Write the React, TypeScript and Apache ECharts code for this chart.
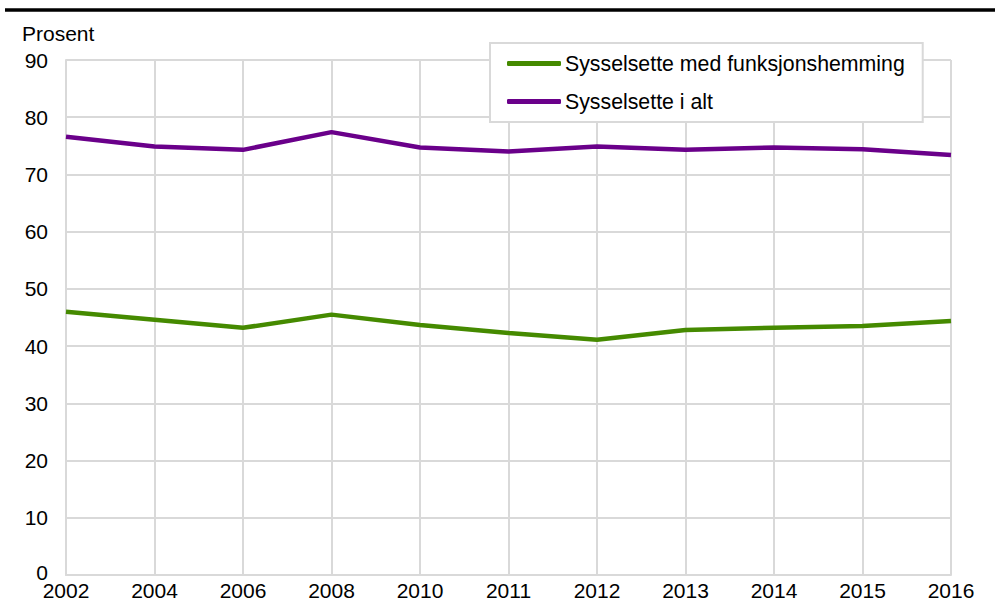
import React, { useEffect, useRef } from "react";
import * as echarts from "echarts";

const years = ["2002", "2004", "2006", "2008", "2010", "2011", "2012", "2013", "2014", "2015", "2016"];
const funksjonshemming = [46.0, 44.6, 43.2, 45.5, 43.7, 42.3, 41.1, 42.8, 43.2, 43.5, 44.4];
const iAlt = [76.6, 74.9, 74.3, 77.4, 74.7, 74.0, 74.9, 74.3, 74.7, 74.4, 73.4];
const seriesNames = ["Sysselsette med funksjonshemming", "Sysselsette i alt"];
const yUnit = "Prosent";

const FONT = "'Liberation Sans', Arial, sans-serif";
const GRID = "#d9d9d9";

export default function App() {
  const ref = useRef<HTMLDivElement>(null);
  useEffect(() => {
    if (!ref.current) return;
    const chart = echarts.init(ref.current, undefined, { renderer: "svg" });
    chart.setOption({
      animation: false,
      backgroundColor: "#ffffff",
      textStyle: { fontFamily: FONT },
      grid: { left: 66, right: 44, top: 60, bottom: 41, containLabel: false },
      legend: {
        orient: "vertical",
        left: 490,
        top: 43,
        padding: [10, 18, 10, 17],
        itemGap: 17,
        itemWidth: 54,
        itemHeight: 5,
        icon: "roundRect",
        borderColor: GRID,
        borderWidth: 2,
        backgroundColor: "#ffffff",
        textStyle: { fontSize: 21.3, color: "#000", fontFamily: FONT, padding: [0, 0, 0, -1] },
        data: seriesNames,
      },
      xAxis: {
        type: "category",
        data: years,
        boundaryGap: false,
        axisLine: { show: true, lineStyle: { color: GRID, width: 2 } },
        axisTick: { show: false },
        axisLabel: { fontSize: 21, color: "#000", fontFamily: FONT, margin: 5, interval: 0 },
        splitLine: { show: true, interval: 0, lineStyle: { color: GRID, width: 2 } },
      },
      yAxis: {
        type: "value",
        min: 0,
        max: 90,
        interval: 10,
        axisLine: { show: true, lineStyle: { color: GRID, width: 2 } },
        axisTick: { show: false },
        axisLabel: {
          fontSize: 21,
          color: "#000",
          fontFamily: FONT,
          margin: 18,
          formatter: (v: number) => (v === 0 ? "{z|0}" : String(v)),
          rich: { z: { fontSize: 21, color: "#000", fontFamily: FONT, padding: [0, 0, 6, 0] } },
        },
        splitLine: { show: true, lineStyle: { color: GRID, width: 2 } },
      },
      graphic: [
        {
          type: "line",
          shape: { x1: 5, y1: 10, x2: 995, y2: 10 },
          style: { stroke: "#000", lineWidth: 3.5 },
        },
        {
          type: "text",
          left: 22,
          top: 23,
          style: { text: yUnit, fontSize: 21, fill: "#000", fontFamily: FONT },
        },
      ],
      series: [
        {
          name: seriesNames[0],
          type: "line",
          data: funksjonshemming,
          symbol: "none",
          lineStyle: { color: "#458a00", width: 4.5 },
          itemStyle: { color: "#458a00" },
          z: 3,
        },
        {
          name: seriesNames[1],
          type: "line",
          data: iAlt,
          symbol: "none",
          lineStyle: { color: "#6a008a", width: 4.5 },
          itemStyle: { color: "#6a008a" },
          z: 3,
        },
      ],
    });
    return () => chart.dispose();
  }, []);
  return (
    <div
      ref={ref}
      style={{ position: "fixed", left: 0, top: 0, width: 995, height: 616 }}
    />
  );
}
